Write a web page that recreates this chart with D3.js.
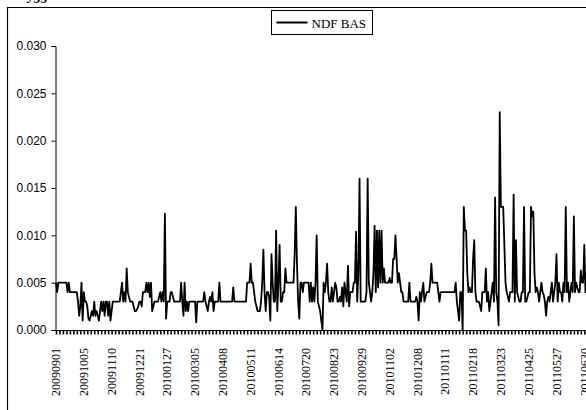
<!DOCTYPE html>
<html>
<head>
<meta charset="utf-8">
<script src="https://cdn.jsdelivr.net/npm/d3@7"></script>
<style>
  body { margin: 0; background: #fff; }
  svg { display: block; font-family: "Liberation Serif", "Times New Roman", serif; }
</style>
</head>
<body>
<script>
// chart size, same as the window
const width = 586;
const height = 410;

// daily NDF bid-ask spread (one value per trading day)
const values = [
  // 20090901
  .005,.004,.005,.005,.005,.005,.005,.005,.005,.005,.004,.005,.004,.004,.004,.004,.004,.004,.004,.003,.0015,.0025,.005,.001,
  // 20091005
  .004,.003,.003,.0025,.0012,.001,.0015,.002,.0015,.003,.0015,.002,.0015,.001,.002,.003,.002,.003,.0015,.003,.003,.0015,.003,.001,
  // 20091110
  .002,.003,.003,.003,.003,.003,.003,.003,.004,.005,.003,.004,.003,.0065,.004,.0035,.003,.003,.003,.0025,.002,.002,.0022,.0025,
  // 20091221
  .003,.003,.0025,.004,.004,.004,.005,.004,.005,.0035,.005,.002,.0025,.003,.003,.003,.003,.0035,.004,.003,.004,.003,.0123,.0012,
  // 20100127
  .003,.003,.003,.004,.004,.0035,.003,.003,.003,.003,.003,.003,.005,.003,.0015,.005,.002,.003,.002,.003,.003,.003,.003,.003,
  // 20100305
  .003,.0008,.003,.003,.003,.003,.003,.003,.004,.003,.0025,.002,.003,.0035,.003,.004,.002,.003,.003,.003,.003,.005,.003,.003,
  // 20100408
  .003,.003,.003,.003,.003,.003,.003,.003,.003,.0045,.003,.003,.003,.003,.003,.003,.003,.003,.003,.003,.003,.005,.005,.005,
  // 20100511
  .007,.005,.005,.004,.003,.0025,.002,.002,.002,.003,.005,.0085,.004,.002,.004,.004,.0035,.001,.008,.005,.003,.003,.0105,.002,
  // 20100614
  .005,.009,.003,.003,.004,.004,.0065,.005,.005,.005,.005,.005,.005,.005,.008,.013,.007,.003,.0012,.005,.005,.004,.005,.005,
  // 20100720
  .005,.005,.005,.003,.005,.003,.0045,.003,.005,.010,.003,.0025,.002,.001,.000,.005,.004,.005,.007,.004,.003,.003,.0045,.003,
  // 20100823
  .004,.005,.0045,.003,.003,.0035,.003,.0045,.0025,.005,.004,.003,.0068,.0025,.004,.004,.004,.005,.005,.0104,.003,.006,.016,.003,
  // 20100929
  .003,.003,.003,.003,.004,.016,.005,.004,.003,.004,.006,.011,.004,.0105,.0045,.0105,.005,.0105,.005,.0065,.005,.005,.005,.005,
  // 20101102
  .0055,.005,.005,.0075,.0075,.010,.0075,.005,.006,.005,.004,.004,.003,.003,.003,.003,.003,.005,.003,.003,.003,.003,.003,.0035,
  // 20101208
  .003,.001,.004,.003,.004,.005,.003,.0035,.004,.004,.004,.005,.007,.005,.005,.005,.005,.005,.004,.003,.004,.004,.004,.004,
  // 20110111
  .004,.004,.004,.004,.004,.004,.004,.004,.004,.005,.003,.002,.001,.004,.004,.000,.013,.0105,.0105,.006,.004,.0045,.004,.004,
  // 20110218
  .0075,.0095,.004,.003,.003,.003,.0025,.002,.004,.004,.004,.0065,.003,.004,.002,.003,.004,.005,.003,.014,.004,.003,.0005,.023,
  // 20110323
  .013,.013,.013,.009,.005,.004,.0035,.003,.004,.004,.004,.0143,.003,.0095,.004,.0035,.003,.003,.004,.004,.013,.003,.003,.0035,
  // 20110425
  .004,.004,.013,.012,.0125,.006,.004,.0045,.004,.003,.004,.005,.004,.0037,.003,.0015,.003,.0035,.003,.004,.005,.003,.004,.005,
  // 20110527
  .008,.003,.005,.004,.004,.003,.005,.004,.013,.004,.005,.003,.004,.005,.004,.012,.004,.005,.0045,.004,.004,.0063,.005,.005,
  // 20110630
  .009,.004,.006,.004,.005,.004,.005
];

// category labels shown on the axis, one every 24 trading days
const tickLabels = ["20090901","20091005","20091110","20091221","20100127","20100305",
  "20100408","20100511","20100614","20100720","20100823","20100929","20101102",
  "20101208","20110111","20110218","20110323","20110425","20110527","20110630"];
const labelStep = 24;
const tickStep = 3;

const yTicks = [0, 0.005, 0.010, 0.015, 0.020, 0.025, 0.030];

var svg = d3.select("body").append("svg")
  .attr("width", width)
  .attr("height", height);

// scales - the plot runs off the right edge of the cropped picture
var x = d3.scaleLinear()
  .domain([0, (tickLabels.length - 1) * labelStep])
  .range([56, 584.3]);

var y = d3.scaleLinear()
  .domain([0, 0.030])
  .range([330, 46]);

// outer chart frame (only top and left show in the crop)
svg.append("path")
  .attr("d", "M7.5," + height + "V7.5H" + width)
  .attr("fill", "none")
  .attr("stroke", "#000")
  .attr("stroke-width", 1.2);

// fragment of the caption above the chart
svg.append("text")
  .attr("x", 28)
  .attr("y", 0)
  .style("font-size", "14px")
  .style("font-weight", "bold")
  .style("font-style", "italic")
  .text("ygg");

// y axis
var yAxis = d3.axisLeft(y)
  .tickValues(yTicks)
  .tickFormat(d3.format(".3f"))
  .tickSize(4)
  .tickPadding(5);

var gy = svg.append("g")
  .attr("transform", "translate(55.5,0)")
  .call(yAxis);
gy.selectAll("text").style("font-size", "12px").style("fill", "#000");
gy.select(".domain").attr("stroke", "#000");

// x axis: tick marks every 3 days, labels every 24
var allIdx = d3.range(0, values.length + 40, tickStep);
var xAxis = d3.axisBottom(x)
  .tickValues(allIdx)
  .tickFormat("")
  .tickSize(4)
  .tickSizeOuter(0);

var gx = svg.append("g")
  .attr("transform", "translate(0,330.5)")
  .call(xAxis);
gx.select(".domain").attr("d", "M55.5,0H" + width).attr("stroke", "#000");
gx.selectAll(".tick line").attr("stroke", "#000").attr("stroke-width", 1.6);

svg.append("g")
  .selectAll("text")
  .data(tickLabels)
  .enter()
  .append("text")
  .attr("transform", (d, i) => "translate(" + x(i * labelStep) + ",348) rotate(-90)")
  .attr("dy", "0.35em")
  .attr("text-anchor", "end")
  .style("font-size", "12px")
  .text(d => d);

// the series
var line = d3.line()
  .x((d, i) => x(i))
  .y(d => y(d));

svg.append("path")
  .datum(values)
  .attr("d", line)
  .attr("fill", "none")
  .attr("stroke", "#000")
  .attr("stroke-width", 1.8)
  .attr("stroke-linejoin", "round");

// legend
var legend = svg.append("g").attr("transform", "translate(271.5,10.5)");
legend.append("rect")
  .attr("width", 101)
  .attr("height", 24)
  .attr("fill", "#fff")
  .attr("stroke", "#000");
legend.append("line")
  .attr("x1", 5).attr("x2", 36)
  .attr("y1", 12).attr("y2", 12)
  .attr("stroke", "#000")
  .attr("stroke-width", 2);
legend.append("text")
  .attr("x", 40)
  .attr("y", 17)
  .style("font-size", "13px")
  .text("NDF BAS");
</script>
</body>
</html>
